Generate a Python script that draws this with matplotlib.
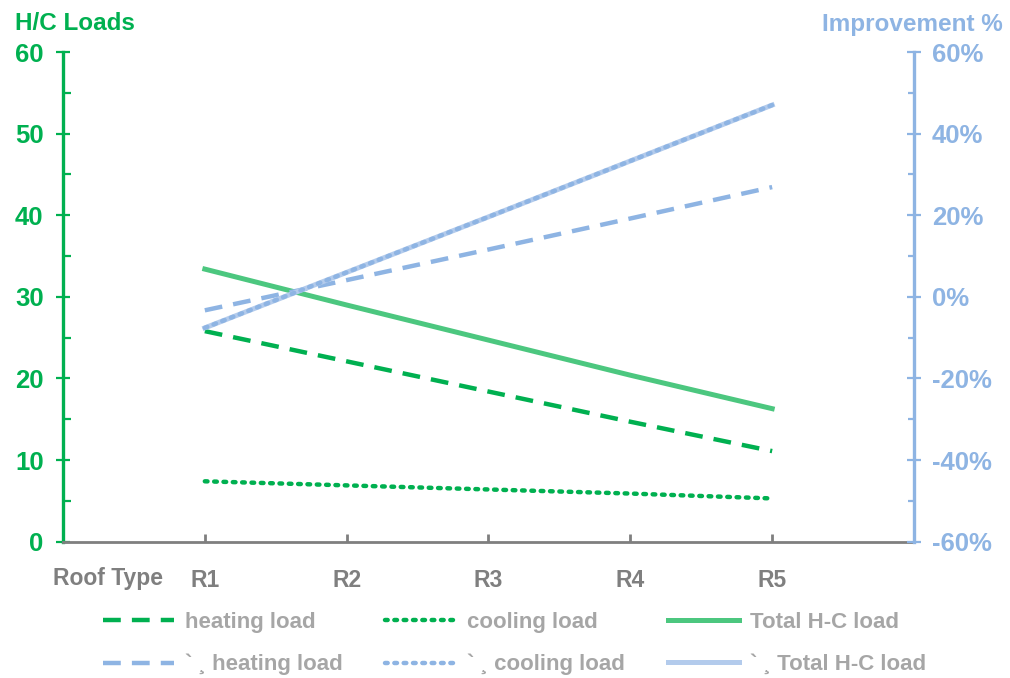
import matplotlib
matplotlib.use("Agg")
import matplotlib.pyplot as plt
from matplotlib.ticker import MultipleLocator, FuncFormatter
from matplotlib.lines import Line2D

plt.rcParams['font.family'] = ['Liberation Sans', 'DejaVu Sans']

categories = ["R1", "R2", "R3", "R4", "R5"]
heating_load = [25.8, 22.1, 18.4, 14.7, 11.1]
cooling_load = [7.4, 6.9, 6.4, 5.9, 5.3]
total_load = [33.4, 29.0, 24.7, 20.4, 16.3]
heating_impr = [-3.3, 4.1, 11.6, 19.2, 26.9]
cooling_impr = [-7.6, 6.0, 19.6, 33.3, 47.0]
total_impr = [-7.6, 6.0, 19.6, 33.3, 47.0]

GREEN = "#00B050"
GREEN_L = "#4CC77F"
BLUE = "#8EB4E3"
BLUE_L = "#B3CBEC"
GREY = "#7F7F7F"

fig = plt.figure(figsize=(10.1, 6.78), dpi=100)
ax = fig.add_axes([63/1010, 1-541.7/678, (914-63)/1010, (541.7-52)/678])
ax2 = ax.twinx()

x = list(range(1, len(categories)+1))

DASH = (4, 2.5)
DOT = (0.6, 1.5)

ax.plot(x, heating_load, color=GREEN, lw=3.2, dashes=DASH, zorder=3)
ax.plot(x, cooling_load, color=GREEN, lw=3.2, dashes=DOT, dash_capstyle='round', zorder=3)
ax.plot(x, total_load, color=GREEN_L, lw=3.6, zorder=3)

ax2.plot(x, heating_impr, color=BLUE, lw=3.2, dashes=DASH, zorder=3)
ax2.plot(x, total_impr, color=BLUE_L, lw=3.6, zorder=3)
ax2.plot(x, cooling_impr, color=BLUE, lw=3.2, dashes=DOT, dash_capstyle='round', zorder=4)

ax.set_xlim(0, 6)
ax.set_ylim(0, 60)
ax2.set_ylim(-60, 60)

ax.set_xticks(x)
ax.set_xticklabels(categories)
ax.yaxis.set_major_locator(MultipleLocator(10))
ax.yaxis.set_minor_locator(MultipleLocator(5))
ax2.yaxis.set_major_locator(MultipleLocator(20))
ax2.yaxis.set_minor_locator(MultipleLocator(10))
ax2.yaxis.set_major_formatter(FuncFormatter(lambda v, p: f"{v:.0f}%"))

ax.spines['top'].set_visible(False)
ax2.spines['top'].set_visible(False)
ax.spines['right'].set_visible(False)
ax2.spines['left'].set_visible(False)
ax2.spines['bottom'].set_visible(False)
ax.spines['left'].set_color(GREEN)
ax.spines['left'].set_linewidth(2.4)
ax2.spines['right'].set_color(BLUE)
ax2.spines['right'].set_linewidth(2.4)
ax.spines['bottom'].set_color(GREY)
ax.spines['bottom'].set_linewidth(2.0)

ax.tick_params(axis='y', which='major', direction='inout', length=10, width=1.6,
               color=GREEN, labelcolor=GREEN, labelsize=18.5, pad=9)
ax.tick_params(axis='y', which='minor', direction='in', length=5.5, width=1.6, color=GREEN)
ax2.tick_params(axis='y', which='major', direction='inout', length=10, width=1.6,
                color=BLUE, labelcolor=BLUE, labelsize=18.5, pad=8)
ax2.tick_params(axis='y', which='minor', direction='in', length=4, width=1.6, color=BLUE)
ax.tick_params(axis='x', direction='in', length=6, width=2, color=GREY,
               labelcolor=GREY, labelsize=16.5, pad=20)
for lab in ax.get_yticklabels() + ax2.get_yticklabels() + ax.get_xticklabels():
    lab.set_fontweight('bold')

fig.text(163/1010, 1-579/678, "Roof Type", ha='right', va='center', fontsize=16.5,
         fontweight='bold', color=GREY)
fig.text(15/1010, 1-24/678, "H/C Loads", ha='left', va='center', fontsize=17.5,
         fontweight='bold', color=GREEN)
fig.text(1003/1010, 1-24/678, "Improvement %", ha='right', va='center', fontsize=17.5,
         fontweight='bold', color=BLUE)

cols = [
    ([Line2D([], [], color=GREEN, lw=3.2, dashes=DASH),
      Line2D([], [], color=BLUE, lw=3.2, dashes=DASH)],
     ["heating load", "` \u00b8 heating load"], 103),
    ([Line2D([], [], color=GREEN, lw=3.2, dashes=DOT, dash_capstyle='round'),
      Line2D([], [], color=BLUE, lw=3.2, dashes=DOT, dash_capstyle='round')],
     ["cooling load", "` \u00b8 cooling load"], 385),
    ([Line2D([], [], color=GREEN_L, lw=3.6),
      Line2D([], [], color=BLUE_L, lw=3.6)],
     ["Total H-C load", "` \u00b8 Total H-C load"], 668),
]
for hs, ls, xpix in cols:
    leg = fig.legend(hs, ls, ncol=1, loc='center left',
                     bbox_to_anchor=(xpix/1010, 1-643.5/678), frameon=False,
                     prop={'size': 16, 'weight': 'bold'}, handlelength=3.2,
                     handletextpad=0.5, labelspacing=0.95, borderpad=0,
                     borderaxespad=0)
    for t in leg.get_texts():
        t.set_color("#A6A6A6")

fig.savefig("out.png", dpi=100)
